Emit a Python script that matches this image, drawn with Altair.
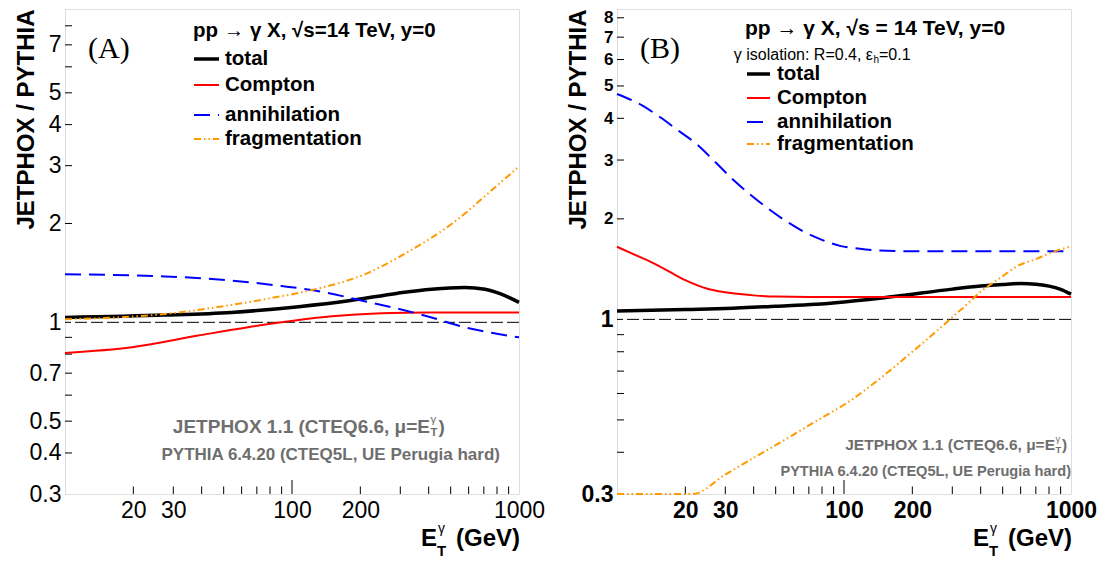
import altair as alt
import pandas as pd

# ---------------- data ----------------
# x = E_T^gamma (GeV), y = JETPHOX / PYTHIA ratio
# Panel (A)
A_total_x = [10, 27.6, 54, 107, 178, 293, 412, 576, 709, 836, 1000]
A_total_y = [1.035, 1.052, 1.072, 1.116, 1.163, 1.227, 1.261, 1.276, 1.261, 1.218, 1.15]
A_compton_x = [10, 19.7, 38.6, 64, 90, 150, 248, 400, 1000]
A_compton_y = [0.807, 0.84, 0.911, 0.966, 1.0, 1.043, 1.065, 1.071, 1.072]
A_annih_x = [10, 27.6, 54, 90, 126, 209, 293, 412, 576, 810, 1000]
A_annih_y = [1.40, 1.38, 1.34, 1.29, 1.25, 1.16, 1.10, 1.035, 0.966, 0.922, 0.90]
A_frag_x = [10, 17, 27.6, 45.8, 76, 126, 209, 315, 533, 760, 1000]
A_frag_y = [1.022, 1.035, 1.06, 1.11, 1.176, 1.26, 1.40, 1.62, 2.05, 2.53, 2.98]

# Panel (B)
B_total_x = [10, 20, 30, 50, 75, 100, 150, 200, 300, 400, 500, 600, 700, 800, 900, 1000]
B_total_y = [1.06, 1.07, 1.078, 1.095, 1.11, 1.128, 1.16, 1.19, 1.232, 1.258, 1.272, 1.28, 1.275, 1.258, 1.23, 1.19]
B_compton_x = [10, 12, 14, 17, 20, 25, 30, 40, 50, 70, 1000]
B_compton_y = [1.65, 1.56, 1.49, 1.39, 1.31, 1.235, 1.205, 1.18, 1.17, 1.167, 1.167]
B_annih_x = [10, 12.9, 15.5, 18.6, 22.3, 26.8, 32.1, 38.5, 46.2, 55.5, 66.6, 80, 96, 115, 138.5, 200, 1000]
B_annih_y = [4.73, 4.37, 4.03, 3.68, 3.36, 2.98, 2.64, 2.37, 2.15, 1.97, 1.83, 1.73, 1.66, 1.63, 1.61, 1.60, 1.60]
B_frag_x = [10, 15, 21.5, 30, 40, 50, 65, 80, 100, 140, 200, 250, 300, 350, 400, 450, 500, 576, 700, 810, 1000]
B_frag_y = [0.3, 0.3, 0.3, 0.343, 0.385, 0.42, 0.467, 0.508, 0.555, 0.655, 0.80, 0.91, 1.014, 1.114, 1.21, 1.282, 1.347, 1.44, 1.515, 1.58, 1.655]

# axis labels / ticks
X_LABELS = [20, 30, 100, 200, 1000]
X_MINOR = [20, 30, 40, 50, 60, 70, 80, 90, 200, 300, 400, 500, 600, 700, 800, 900]
X_MAJOR = [100]
A_Y_LABELS = [0.3, 0.4, 0.5, 0.7, 1, 2, 3, 4, 5, 7]
B_Y_LABELS = [0.3, 1, 2, 3, 4, 5, 6, 7, 8]
Y_MINOR = [0.4, 0.5, 0.6, 0.7, 0.8, 0.9, 2, 3, 4, 5, 6, 7, 8]
SERIES = ["total", "Compton", "annihilation", "fragmentation"]

# ---------------- styling ----------------
FONT = "Liberation Sans"
W, H = 454, 485
GRAY = "#6e6e6e"
STYLE = {
    "total": dict(color="black", strokeWidth=3.5),
    "Compton": dict(color="#ff0000", strokeWidth=2),
    "annihilation": dict(color="#0000ff", strokeWidth=2, strokeDash=[16, 8]),
    "fragmentation": dict(color="#ff9900", strokeWidth=2, strokeDash=[7, 3, 1.5, 3, 1.5, 3]),
}
one = pd.DataFrame({"a": [0]})


def text(t, x, y, size, weight="bold", color="black", align="left", font=FONT, baseline="middle"):
    return alt.Chart(one).mark_text(
        text=t, fontSize=size, fontWeight=weight, color=color, align=align,
        baseline=baseline, font=font
    ).encode(x=alt.value(x), y=alt.value(y))


def panel(data, ymax, ylabels, label_weight, ylabel_size, tag, title, title_size, iso, leg, bottom):
    xscale = alt.Scale(type="log", domain=[10, 1000], nice=False)
    yscale = alt.Scale(type="log", domain=[0.3, ymax], nice=False)
    xaxis = alt.Axis(values=X_LABELS, format="d", title=None, ticks=False, domain=False,
                     grid=False, labelFont=FONT, labelFontSize=23, labelFontWeight=label_weight,
                     labelColor="black", labelPadding=5, labelFlush=False, labelOverlap=False)
    yaxis = alt.Axis(values=ylabels, format="~g", title="JETPHOX / PYTHIA", titleFont=FONT,
                     titleFontSize=24, titleFontWeight="bold", titleColor="black",
                     titleAngle=270, titleAlign="right", titleBaseline="middle",
                     titleX=-39, titleY=0, ticks=False, domain=False, grid=False,
                     labelFont=FONT, labelFontSize=ylabel_size, labelFontWeight=label_weight,
                     labelColor="black", labelPadding=4, labelFlush=False, labelOverlap=False)
    X = lambda f: alt.X(f, scale=xscale, axis=xaxis)
    Y = lambda f: alt.Y(f, scale=yscale, axis=yaxis)

    layers = []
    # inward ticks
    layers.append(alt.Chart(pd.DataFrame({"v": Y_MINOR})).mark_rule(color="black", strokeWidth=1)
                  .encode(y=Y("v:Q"), x=alt.value(0), x2=alt.value(7)))
    layers.append(alt.Chart(pd.DataFrame({"v": X_MINOR})).mark_rule(color="black", strokeWidth=1)
                  .encode(x=X("v:Q"), y=alt.value(H), y2=alt.value(H - 7.5)))
    layers.append(alt.Chart(pd.DataFrame({"v": X_MAJOR})).mark_rule(color="black", strokeWidth=1)
                  .encode(x=X("v:Q"), y=alt.value(H), y2=alt.value(H - 14)))
    # reference line at 1
    layers.append(alt.Chart(pd.DataFrame({"v": [1.0]})).mark_rule(color="black", strokeWidth=1, strokeDash=[12, 4])
                  .encode(y=Y("v:Q")))
    # curves (all data lie inside the axis ranges)
    for name in SERIES:
        xs, ys = data[name]
        df = pd.DataFrame({"x": xs, "y": ys})
        layers.append(alt.Chart(df).mark_line(interpolate="monotone", clip=False, **STYLE[name])
                      .encode(x=X("x:Q"), y=Y("y:Q")))
    # panel tag
    layers.append(text(tag, 23, 40, 30, weight="normal", font="Liberation Serif"))
    # legend header
    layers.append(text(title, 128, leg["ty"], title_size))
    if iso:
        layers.append(text("γ isolation: R=0.4, ε", 256, 46, 16, weight="normal", align="right"))
        layers.append(text("h", 256.5, 51, 10, weight="normal"))
        layers.append(text("=0.1", 262, 46, 16, weight="normal"))
    for name, yy in zip(SERIES, leg["ys"]):
        st = STYLE[name]
        kw = dict(color=st["color"], strokeWidth=st["strokeWidth"])
        if "strokeDash" in st:
            kw["strokeDash"] = st["strokeDash"]
        layers.append(alt.Chart(one).mark_rule(**kw).encode(
            x=alt.value(leg["x0"]), x2=alt.value(leg["x1"]), y=alt.value(yy)))
        layers.append(text(name, leg["xt"], yy, leg["size"]))
    # bottom annotations
    xr, yj, fj, xp, yp, fp = bottom
    layers.append(text("JETPHOX 1.1 (CTEQ6.6, μ=E", xr, yj, fj, color=GRAY, align="right"))
    layers.append(text("γ", xr + 0.5, yj - 0.38 * fj, 0.6 * fj, weight="normal", color=GRAY))
    layers.append(text("T", xr + 0.5, yj + 0.32 * fj, 0.6 * fj, color=GRAY))
    layers.append(text(")", xr + 0.45 * fj, yj, fj, color=GRAY))
    layers.append(text("PYTHIA 6.4.20 (CTEQ5L, UE Perugia hard)", xp, yp, fp, color=GRAY, align="right"))
    # x-axis title  E_T^gamma (GeV)
    layers.append(text("E", 356, 530, 24))
    layers.append(text("γ", 373, 520, 14, weight="normal"))
    layers.append(text("T", 372, 542, 15))
    layers.append(text("(GeV)", 455, 530, 24, align="right"))
    return alt.layer(*layers).properties(width=W, height=H)


dataA = {"total": (A_total_x, A_total_y), "Compton": (A_compton_x, A_compton_y),
         "annihilation": (A_annih_x, A_annih_y), "fragmentation": (A_frag_x, A_frag_y)}
dataB = {"total": (B_total_x, B_total_y), "Compton": (B_compton_x, B_compton_y),
         "annihilation": (B_annih_x, B_annih_y), "fragmentation": (B_frag_x, B_frag_y)}

B_LABEL_SIZE = {"condition": {"test": "datum.value <= 1", "value": 23}, "value": 17}

pA = panel(dataA, 9.0, A_Y_LABELS, "normal", 23, "(A)", "pp → γ X, √s=14 TeV, y=0", 20.5, False,
           dict(ty=22, ys=[50, 76, 106, 130], x0=129, x1=154, xt=160, size=20.5),
           (365, 418, 19, 435, 446, 17))
pB = panel(dataB, 8.5, B_Y_LABELS, "bold", B_LABEL_SIZE, "(B)", "pp → γ X, √s = 14 TeV, y=0", 21, True,
           dict(ty=20, ys=[65, 89, 113, 135], x0=130, x1=153, xt=160, size=20.5),
           (438, 436, 15.5, 454, 463, 14.6))

chart = alt.hconcat(pA, pB, spacing=19).properties(
    padding={"left": 5, "top": 0, "right": 0, "bottom": 0}
).configure_view(stroke="#333333", strokeWidth=2).configure(background="white")

chart.save("out.html", embed_options={"renderer": "svg", "actions": False})
